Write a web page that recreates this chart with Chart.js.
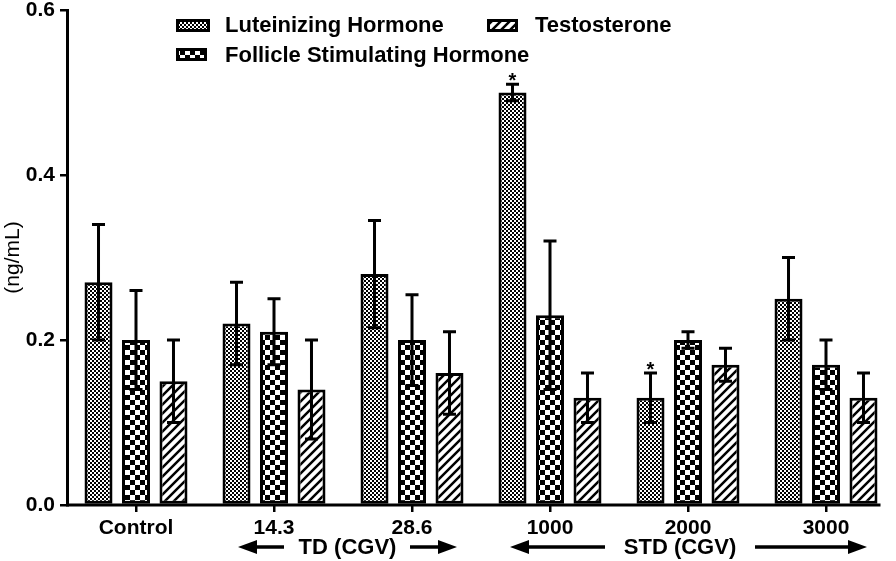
<!DOCTYPE html>
<html>
<head>
<meta charset="utf-8">
<script src="https://cdn.jsdelivr.net/npm/chart.js@4.4.1/dist/chart.umd.min.js"></script>
<style>
  html, body { margin: 0; padding: 0; background: #fff; }
  #wrap { position: relative; width: 896px; height: 561px; }
</style>
</head>
<body>
<div id="wrap"><canvas id="hormoneChart"></canvas></div>
<script>
// Podaci za grafikon (ng/mL), srednja vrednost i greška
const categories = ['Control', '14.3', '28.6', '1000', '2000', '3000'];
const lhMean  = [0.27, 0.22, 0.28, 0.50, 0.13, 0.25];
const lhErr   = [0.07, 0.05, 0.065, 0.01, 0.03, 0.05];
const fshMean = [0.20, 0.21, 0.20, 0.23, 0.20, 0.17];
const fshErr  = [0.06, 0.04, 0.055, 0.09, 0.01, 0.03];
const tMean   = [0.15, 0.14, 0.16, 0.13, 0.17, 0.13];
const tErr    = [0.05, 0.06, 0.05, 0.03, 0.02, 0.03];
const lhStars = ['', '', '', '*', '*', ''];
const yTicks  = [0, 0.2, 0.4, 0.6];
const seriesNames = ['Luteinizing Hormone', 'Follicle Stimulating Hormone', 'Testosterone'];

const FONT = "'Liberation Sans', Arial, Helvetica, sans-serif";

// Pravi pattern od malog canvas-a
function makePattern(size, draw) {
    const c = document.createElement('canvas');
    c.width = size; c.height = size;
    const g = c.getContext('2d');
    g.fillStyle = '#fff';
    g.fillRect(0, 0, size, size);
    g.fillStyle = '#000';
    g.strokeStyle = '#000';
    draw(g, size);
    return c.getContext('2d').createPattern(c, 'repeat');
}

// sitna šahovnica za LH
const finePattern = makePattern(4, (g) => {
    g.fillRect(0, 0, 2, 2);
    g.fillRect(2, 2, 2, 2);
});
// krupna šahovnica za FSH
const coarsePattern = makePattern(10, (g) => {
    g.fillRect(0, 0, 5, 5);
    g.fillRect(5, 5, 5, 5);
});
// kose linije za testosteron
const hatchPattern = makePattern(9, (g, s) => {
    g.lineWidth = 2.5;
    g.beginPath();
    g.moveTo(-1, s + 1); g.lineTo(s + 1, -1);
    g.moveTo(-1, 1); g.lineTo(1, -1);
    g.moveTo(s - 1, s + 1); g.lineTo(s + 1, s - 1);
    g.stroke();
});
const patterns = [finePattern, coarsePattern, hatchPattern];
const errors = [lhErr, fshErr, tErr];

// Error barovi i zvezdice
const errorBarPlugin = {
    id: 'errorBars',
    afterDatasetsDraw(chart) {
        const ctx = chart.ctx;
        const y = chart.scales.y;
        ctx.save();
        ctx.strokeStyle = '#000';
        ctx.lineWidth = 3;
        chart.data.datasets.forEach((ds, i) => {
            const meta = chart.getDatasetMeta(i);
            meta.data.forEach((bar, j) => {
                const v = ds.data[j];
                const e = errors[i][j];
                const top = y.getPixelForValue(v + e);
                const bot = y.getPixelForValue(v - e);
                const cap = 6.5;
                ctx.beginPath();
                ctx.moveTo(bar.x, top); ctx.lineTo(bar.x, bot);
                ctx.moveTo(bar.x - cap, top); ctx.lineTo(bar.x + cap, top);
                ctx.moveTo(bar.x - cap, bot); ctx.lineTo(bar.x + cap, bot);
                ctx.stroke();
                if (i === 0 && lhStars[j]) {
                    ctx.fillStyle = '#000';
                    ctx.font = 'bold 20px ' + FONT;
                    ctx.textAlign = 'center';
                    ctx.textBaseline = 'top';
                    ctx.fillText(lhStars[j], bar.x, top - 13);
                }
            });
        });
        ctx.restore();
    }
};

// Osa X do poslednjeg bara, legenda i strelice TD / STD
const decorPlugin = {
    id: 'decor',
    afterDraw(chart) {
        const ctx = chart.ctx;
        const area = chart.chartArea;
        const x = chart.scales.x;
        const lastMeta = chart.getDatasetMeta(chart.data.datasets.length - 1);
        const lastBar = lastMeta.data[lastMeta.data.length - 1];
        ctx.save();
        ctx.strokeStyle = '#000';
        ctx.fillStyle = '#000';
        ctx.lineWidth = 3;
        ctx.beginPath();
        ctx.moveTo(area.left - 1, area.bottom);
        ctx.lineTo(lastBar.x + lastBar.width / 2 + 3, area.bottom);
        ctx.stroke();

        // legenda
        const legendItems = [
            { idx: 0, sx: 176, sy: 19, sw: 34, tx: 225, ty: 26 },
            { idx: 2, sx: 487, sy: 19, sw: 31, tx: 535, ty: 26 },
            { idx: 1, sx: 176, sy: 48, sw: 31, tx: 225, ty: 56 }
        ];
        ctx.font = 'bold 22px ' + FONT;
        ctx.textAlign = 'left';
        ctx.textBaseline = 'middle';
        legendItems.forEach(it => {
            ctx.fillStyle = '#000';
            ctx.fillRect(it.sx, it.sy, it.sw, 13);
            ctx.fillStyle = patterns[it.idx];
            ctx.fillRect(it.sx + 3, it.sy + 3, it.sw - 6, 7);
            ctx.fillStyle = '#000';
            ctx.fillText(seriesNames[it.idx], it.tx, it.ty);
        });

        // strelice ispod ose
        function arrow(x1, x2, yy) {
            const dir = Math.sign(x2 - x1);
            ctx.lineWidth = 3.5;
            ctx.beginPath();
            ctx.moveTo(x1, yy);
            ctx.lineTo(x2 - dir * 12, yy);
            ctx.stroke();
            ctx.beginPath();
            ctx.moveTo(x2, yy);
            ctx.lineTo(x2 - dir * 19, yy - 7);
            ctx.lineTo(x2 - dir * 19, yy + 7);
            ctx.closePath();
            ctx.fill();
        }
        const ay = 547;
        const tdL = x.getPixelForValue(1) - 36;
        const tdR = x.getPixelForValue(2) + 45;
        arrow(tdL + 46, tdL, ay);
        arrow(tdR - 47, tdR, ay);
        const stdL = x.getPixelForValue(3) - 40;
        const stdR = x.getPixelForValue(5) + 41;
        arrow(stdL + 95, stdL, ay);
        arrow(stdR - 112, stdR, ay);
        ctx.font = 'bold 22px ' + FONT;
        ctx.textAlign = 'center';
        ctx.textBaseline = 'middle';
        ctx.fillText('TD (CGV)', (tdL + tdR) / 2, ay + 1);
        ctx.fillText('STD (CGV)', x.getPixelForValue(4) - 8, ay + 1);
        ctx.restore();
    }
};

const ctx = document.getElementById('hormoneChart').getContext('2d');
new Chart(ctx, {
    type: 'bar',
    data: {
        labels: categories,
        datasets: [
            { label: seriesNames[0], data: lhMean,  backgroundColor: finePattern },
            { label: seriesNames[1], data: fshMean, backgroundColor: coarsePattern },
            { label: seriesNames[2], data: tMean,   backgroundColor: hatchPattern }
        ].map(d => Object.assign(d, {
            borderColor: '#000',
            borderWidth: 3,
            borderSkipped: false,
            categoryPercentage: 0.815,
            barPercentage: 0.747
        }))
    },
    options: {
        responsive: true,
        maintainAspectRatio: false,
        animation: false,
        layout: { padding: { left: 0, right: 1, top: 0, bottom: 0 } },
        plugins: {
            legend: { display: false },
            tooltip: { enabled: false }
        },
        scales: {
            x: {
                offset: true,
                border: { display: false },
                grid: { offset: false, drawOnChartArea: false, drawTicks: true, tickLength: 7, color: '#000', lineWidth: 2.5 },
                ticks: { color: '#000', padding: 4, font: { family: FONT, size: 21, weight: 'bold' } },
                afterFit(scale) { scale.height = 56; }
            },
            y: {
                min: 0,
                max: 0.6,
                afterBuildTicks(scale) { scale.ticks = yTicks.map(v => ({ value: v })); },
                border: { display: true, color: '#000', width: 3 },
                grid: { drawOnChartArea: false, drawTicks: true, tickLength: 7, color: '#000', lineWidth: 2.5 },
                ticks: {
                    color: '#000',
                    padding: 5,
                    font: { family: FONT, size: 21, weight: 'bold' },
                    callback: v => Number(v).toFixed(1)
                },
                title: {
                    display: true,
                    text: '(ng/mL)',
                    color: '#000',
                    padding: { top: 1, bottom: 0 },
                    font: { family: FONT, size: 21, weight: 'normal' }
                },
                afterFit(scale) {
                    scale.width = 67;
                    scale.paddingTop = 10;
                    scale.paddingBottom = 0;
                }
            }
        }
    },
    plugins: [errorBarPlugin, decorPlugin]
});
</script>
</body>
</html>
